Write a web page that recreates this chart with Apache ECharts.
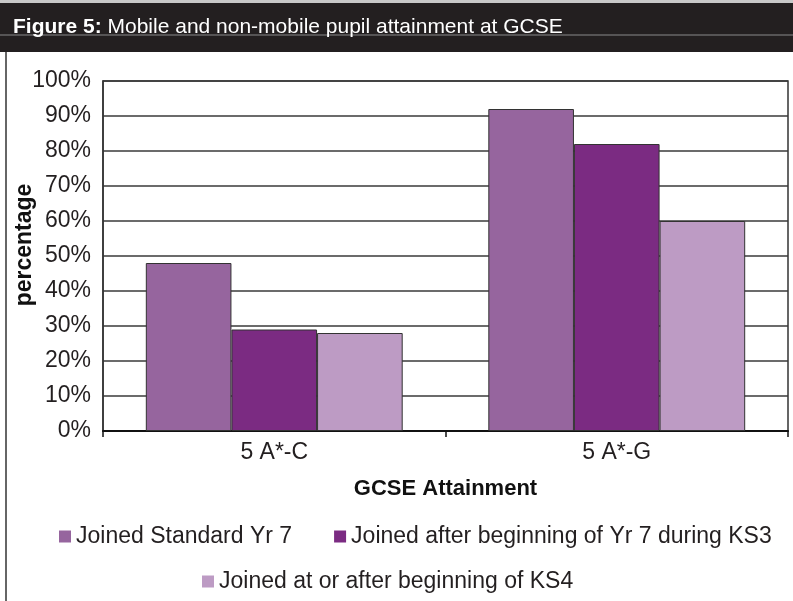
<!DOCTYPE html>
<html>
<head>
<meta charset="utf-8">
<script src="https://cdn.jsdelivr.net/npm/echarts@6/dist/echarts.min.js"></script>
<style>
  html, body { margin: 0; padding: 0; background: #fff; }
  #main { width: 793px; height: 601px; }
</style>
</head>
<body>
<div id="main"></div>
<script>
// categories and values
var categories = ["5 A*-C", "5 A*-G"];
var seriesNames = [
  "Joined Standard Yr 7",
  "Joined after beginning of Yr 7 during KS3",
  "Joined at or after beginning of KS4"
];
var joinedStandard = [48, 92];
var joinedDuringKS3 = [29, 82];
var joinedKS4 = [28, 60];
var colors = ["#96659e", "#7b2b82", "#bd9bc4"];

var myChart = echarts.init(document.getElementById("main"));
var font = "'Liberation Sans', Arial, sans-serif";

function barSeries(name, data, color) {
  return {
    name: name,
    type: "bar",
    data: data,
    barGap: 0,
    barCategoryGap: "25%",
    itemStyle: {
      color: color,
      borderColor: "#333",
      borderWidth: 1,
    },
  };
}

// legend look, shared by both rows
var legendText = { fontSize: 23, color: "#231f20", fontFamily: font };

myChart.setOption({
  animation: false,
  textStyle: { fontFamily: font },
  graphic: [
    // title bar
    { type: "rect", shape: { x: 0, y: 0, width: 793, height: 3 }, style: { fill: "#c8c8c8" }, z: 0 },
    { type: "rect", shape: { x: 0, y: 3, width: 793, height: 49 }, style: { fill: "#231f20" }, z: 0 },
    { type: "line", shape: { x1: 0, y1: 35, x2: 793, y2: 35 }, style: { stroke: "#8a8a8a", lineWidth: 1 }, z: 1 },
    // left frame line
    { type: "line", shape: { x1: 6, y1: 52, x2: 6, y2: 601 }, style: { stroke: "#333", lineWidth: 1.5 }, z: 1 },
  ],
  title: {
    text: "{b|Figure 5:} Mobile and non-mobile pupil attainment at GCSE",
    left: 8,
    top: 12,
    textStyle: {
      color: "#fff",
      fontSize: 21,
      fontWeight: "normal",
      fontFamily: font,
      rich: {
        b: { color: "#fff", fontSize: 21, fontWeight: "bold", fontFamily: font },
      },
    },
    z: 5,
  },
  // two legends so the second row sits centred like the original
  legend: [
    {
      data: [seriesNames[0], seriesNames[1]],
      left: 59,
      top: 525,
      padding: 0,
      itemWidth: 12,
      itemHeight: 12,
      itemGap: 42,
      icon: "rect",
      itemStyle: { borderWidth: 0 },
      textStyle: legendText,
    },
    {
      data: [seriesNames[2]],
      left: 202,
      top: 570,
      padding: 0,
      itemWidth: 12,
      itemHeight: 12,
      icon: "rect",
      itemStyle: { borderWidth: 0 },
      textStyle: legendText,
    },
  ],
  grid: {
    left: 103,
    right: 5,
    top: 81,
    bottom: 170,
    outerBoundsMode: "none",
    show: true,
    borderColor: "#333",
    borderWidth: 1.5,
  },
  xAxis: {
    type: "category",
    data: categories,
    name: "GCSE Attainment",
    nameLocation: "middle",
    nameGap: 47,
    nameTextStyle: { fontSize: 22, fontWeight: "bold", color: "#111" },
    axisLine: { lineStyle: { color: "#111", width: 2 } },
    axisTick: { show: true, length: 6, lineStyle: { color: "#111", width: 1.5 } },
    axisLabel: { fontSize: 23, color: "#231f20", margin: 10 },
  },
  yAxis: {
    type: "value",
    min: 0,
    max: 100,
    interval: 10,
    name: "percentage",
    nameLocation: "middle",
    nameGap: 67,
    nameMoveOverlap: false,
    nameTextStyle: { fontSize: 23, fontWeight: "bold", color: "#111", padding: [0, 0, 0, 22] },
    axisLine: { show: true, lineStyle: { color: "#333", width: 1.5 } },
    axisTick: { show: false },
    axisLabel: { fontSize: 23, color: "#231f20", margin: 12, formatter: "{value}%" },
    splitLine: { show: true, lineStyle: { color: "#3a3a3a", width: 1.5 } },
  },
  series: [
    barSeries(seriesNames[0], joinedStandard, colors[0]),
    barSeries(seriesNames[1], joinedDuringKS3, colors[1]),
    barSeries(seriesNames[2], joinedKS4, colors[2]),
  ],
});
</script>
</body>
</html>
